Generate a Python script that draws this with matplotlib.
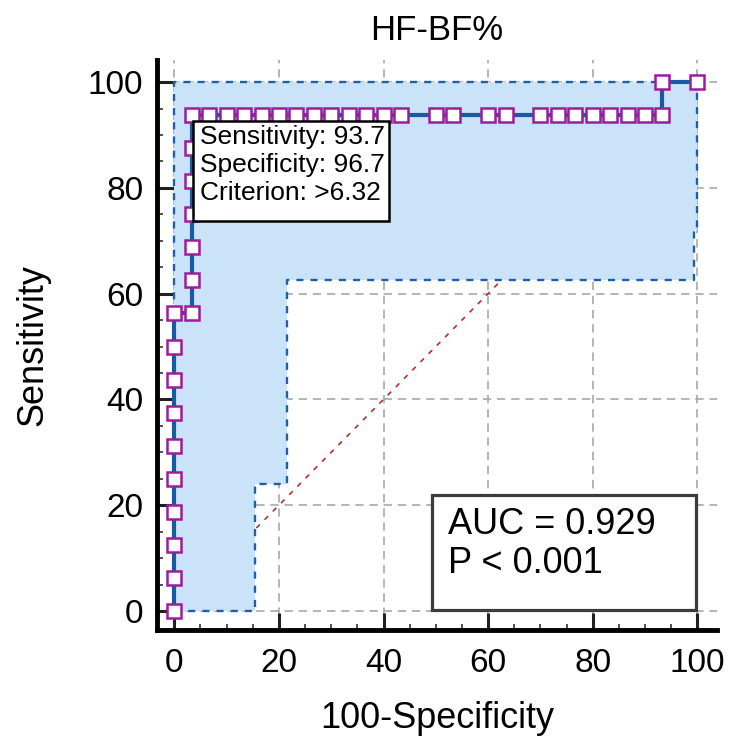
import matplotlib
matplotlib.use('Agg')
import matplotlib.pyplot as plt
from matplotlib.patches import Rectangle

plt.rcParams['font.family'] = ['Liberation Sans', 'DejaVu Sans']

# ROC points (100-Specificity, Sensitivity)
fpr = [0, 0, 0, 0, 0, 0, 0, 0, 0, 0,
       3.33, 3.33, 3.33, 3.33, 3.33, 3.33, 3.33,
       6.67, 10, 13.33, 16.67, 20, 23.33, 26.67, 30, 33.33, 36.67, 40, 43.33,
       50, 53.33, 60, 63.33, 70, 73.33, 76.67, 80, 83.33, 86.67, 90, 93.33,
       93.33, 100]
tpr = [0, 6.25, 12.5, 18.75, 25, 31.25, 37.5, 43.75, 50, 56.25,
       56.25, 62.5, 68.75, 75, 81.25, 87.5, 93.75,
       93.75, 93.75, 93.75, 93.75, 93.75, 93.75, 93.75, 93.75, 93.75, 93.75, 93.75, 93.75,
       93.75, 93.75, 93.75, 93.75, 93.75, 93.75, 93.75, 93.75, 93.75, 93.75, 93.75, 93.75,
       100, 100]

# confidence band
ci_up_x = [0, 0, 100]
ci_up_y = [0, 100, 100]
ci_lo_x = [0, 15.5, 15.5, 21.6, 21.6, 99.3, 99.3, 100, 100]
ci_lo_y = [0, 0, 24, 24, 62.5, 62.5, 72, 72, 100]

ticks = [0, 20, 40, 60, 80, 100]

fig = plt.figure(figsize=(7.32, 7.39), dpi=100)
ax = fig.add_axes([0.2145, 0.1475, 0.7645, 0.7715])

ax.set_xlim(-3.31, 103.7)
ax.set_ylim(-3.6, 104.2)

ax.grid(True, color='#a8a8a8', linestyle=(0, (5, 3.5)), linewidth=1.2, zorder=0)
ax.set_axisbelow(True)

# diagonal reference line
ax.plot([0, 100], [0, 100], color='#b03030', linestyle=(0, (3, 4)), linewidth=1.2, zorder=0.8)

# band fill and borders
poly_x = ci_up_x + ci_lo_x[::-1]
poly_y = ci_up_y + ci_lo_y[::-1]
ax.fill(poly_x, poly_y, color='#cbe3f9', zorder=1, lw=0)
ax.plot(ci_up_x, ci_up_y, color='#1f5fa8', linestyle=(0, (3, 3)), linewidth=1.7, zorder=1.5)
ax.plot(ci_lo_x, ci_lo_y, color='#1f5fa8', linestyle=(0, (3, 3)), linewidth=1.7, zorder=1.5)

# ROC curve
ax.plot(fpr, tpr, color='#1a5a9e', linewidth=3, zorder=3)
ax.plot(fpr, tpr, linestyle='none', marker='s', markersize=9.5, markerfacecolor='white',
        markeredgecolor='#9c1c9c', markeredgewidth=1.8, zorder=4)

# criterion box
ax.add_patch(Rectangle((3.6, 73.8), 37.5, 18.8, facecolor='white', edgecolor='black',
                       linewidth=1.8, zorder=5))
ax.text(4.9, 91.9, 'Sensitivity: 93.7\nSpecificity: 96.7\nCriterion: >6.32',
        ha='left', va='top', fontsize=19, linespacing=1.2, zorder=6)

# AUC box
ax.add_patch(Rectangle((49.3, 0.2), 50.5, 21.7, facecolor='white', edgecolor='#3c3c3c',
                       linewidth=2.3, zorder=5))
ax.text(52.4, 19.6, 'AUC = 0.929\nP < 0.001', ha='left', va='top', fontsize=26,
        linespacing=1.15, zorder=6)

for side in ['top', 'right']:
    ax.spines[side].set_visible(False)
for side in ['left', 'bottom']:
    ax.spines[side].set_linewidth(3.5)
    ax.spines[side].set_zorder(7)

ax.set_xticks(ticks)
ax.set_yticks(ticks)
ax.set_xticks(range(0, 101, 5), minor=True)
ax.set_yticks(range(0, 101, 5), minor=True)
ax.tick_params(which='major', direction='in', length=12, width=2.2, color='#202020', labelsize=24)
ax.tick_params(axis='x', which='major', pad=13)
ax.tick_params(axis='y', which='major', pad=10)
ax.tick_params(which='minor', direction='in', length=4.3, width=1.1, color='#202020')

ax.set_title('HF-BF%', fontsize=25, pad=14)
ax.set_xlabel('100-Specificity', fontsize=26)
ax.set_ylabel('Sensitivity', fontsize=26)
ax.xaxis.set_label_coords(0.5, -0.125)
ax.yaxis.set_label_coords(-0.19, 0.5)

fig.savefig('out.png', dpi=100)
